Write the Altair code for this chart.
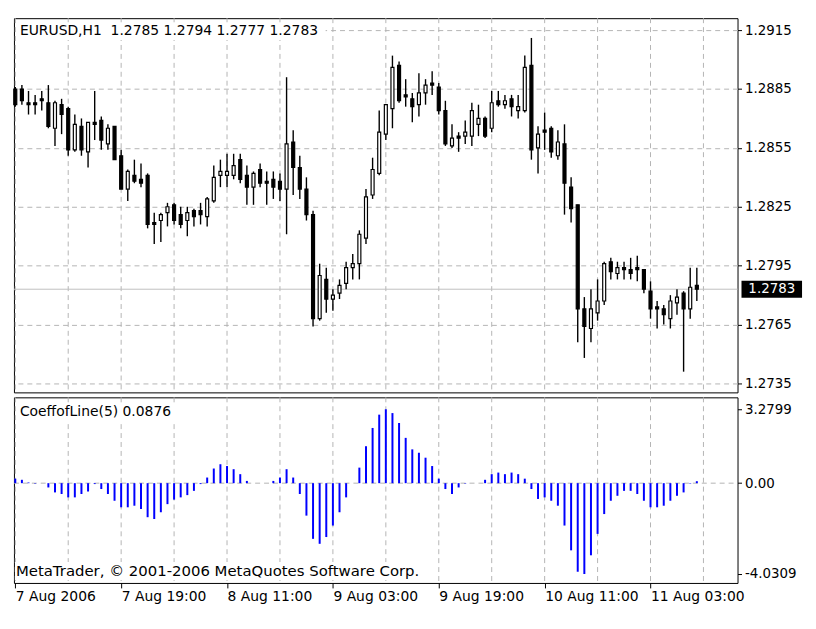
import json
import altair as alt
import pandas as pd

# ---------------- data ----------------
idx = list(range(104))
open_ = [1.2885, 1.2885, 1.2878, 1.2878, 1.2880, 1.2878, 1.2865, 1.2877, 1.2875, 1.2854,
         1.2866, 1.2853, 1.2868, 1.2869, 1.2857, 1.2866, 1.2851, 1.2834, 1.2841, 1.2839,
         1.2841, 1.2817, 1.2818, 1.2822, 1.2826, 1.2821, 1.2818, 1.2823, 1.2823, 1.2820,
         1.2828, 1.2841, 1.2841, 1.2841, 1.2849, 1.2841, 1.2835, 1.2844, 1.2838, 1.2839,
         1.2838, 1.2834, 1.2858, 1.2845, 1.2834, 1.2821, 1.2768, 1.2788, 1.2778, 1.2781,
         1.2786, 1.2794, 1.2796, 1.2809, 1.2831, 1.2842, 1.2862, 1.2875, 1.2897, 1.2882,
         1.2880, 1.2877, 1.2883, 1.2888, 1.2886, 1.2874, 1.2856, 1.2861, 1.2861, 1.2861,
         1.2867, 1.2870, 1.2865, 1.2879, 1.2877, 1.2880, 1.2874, 1.2874, 1.2897, 1.2855,
         1.2864, 1.2865, 1.2851, 1.2857, 1.2835, 1.2826, 1.2773, 1.2763, 1.2771, 1.2777,
         1.2797, 1.2791, 1.2794, 1.2793, 1.2794, 1.2793, 1.2782, 1.2774, 1.2773, 1.2768,
         1.2776, 1.2781, 1.2773, 1.2785]
high = [1.2886, 1.2887, 1.2884, 1.2882, 1.2884, 1.2887, 1.2879, 1.2880, 1.2876, 1.2872,
        1.2870, 1.2868, 1.2884, 1.2871, 1.2867, 1.2866, 1.2854, 1.2844, 1.2849, 1.2847,
        1.2842, 1.2822, 1.2822, 1.2827, 1.2827, 1.2825, 1.2825, 1.2824, 1.2827, 1.2830,
        1.2846, 1.2849, 1.2852, 1.2852, 1.2852, 1.2846, 1.2843, 1.2847, 1.2843, 1.2843,
        1.2842, 1.2891, 1.2864, 1.2851, 1.2840, 1.2823, 1.2796, 1.2794, 1.2783, 1.2788,
        1.2797, 1.2801, 1.2813, 1.2834, 1.2850, 1.2874, 1.2877, 1.2902, 1.2899, 1.2890,
        1.2883, 1.2893, 1.2890, 1.2894, 1.2888, 1.2879, 1.2867, 1.2863, 1.2869, 1.2878,
        1.2877, 1.2871, 1.2884, 1.2884, 1.2882, 1.2882, 1.2882, 1.2902, 1.2911, 1.2866,
        1.2873, 1.2866, 1.2864, 1.2867, 1.2840, 1.2826, 1.2779, 1.2783, 1.2788, 1.2797,
        1.2799, 1.2797, 1.2797, 1.2799, 1.2800, 1.2793, 1.2787, 1.2777, 1.2775, 1.2780,
        1.2783, 1.2782, 1.2794, 1.2794]
low = [1.2876, 1.2877, 1.2872, 1.2872, 1.2874, 1.2865, 1.2856, 1.2862, 1.2851, 1.2853,
       1.2851, 1.2845, 1.2859, 1.2854, 1.2854, 1.2849, 1.2834, 1.2828, 1.2837, 1.2835,
       1.2814, 1.2806, 1.2807, 1.2815, 1.2816, 1.2814, 1.2810, 1.2815, 1.2816, 1.2815,
       1.2827, 1.2835, 1.2835, 1.2839, 1.2837, 1.2826, 1.2826, 1.2835, 1.2826, 1.2829,
       1.2828, 1.2811, 1.2831, 1.2829, 1.2818, 1.2764, 1.2767, 1.2771, 1.2772, 1.2778,
       1.2783, 1.2788, 1.2788, 1.2806, 1.2829, 1.2841, 1.2859, 1.2865, 1.2878, 1.2876,
       1.2868, 1.2871, 1.2877, 1.2882, 1.2872, 1.2856, 1.2855, 1.2853, 1.2857, 1.2856,
       1.2861, 1.2860, 1.2863, 1.2876, 1.2875, 1.2871, 1.2870, 1.2873, 1.2849, 1.2842,
       1.2854, 1.2850, 1.2849, 1.2821, 1.2817, 1.2756, 1.2748, 1.2756, 1.2767, 1.2775,
       1.2788, 1.2788, 1.2788, 1.2788, 1.2787, 1.2781, 1.2768, 1.2763, 1.2765, 1.2763,
       1.2770, 1.2741, 1.2768, 1.2777]
close = [1.2877, 1.2879, 1.2877, 1.2877, 1.2879, 1.2866, 1.2878, 1.2872, 1.2854, 1.2867,
         1.2854, 1.2868, 1.2867, 1.2859, 1.2865, 1.2849, 1.2834, 1.2843, 1.2838, 1.2837,
         1.2816, 1.2816, 1.2821, 1.2825, 1.2818, 1.2816, 1.2822, 1.2820, 1.2821, 1.2829,
         1.2840, 1.2843, 1.2843, 1.2846, 1.2839, 1.2835, 1.2842, 1.2837, 1.2837, 1.2835,
         1.2834, 1.2857, 1.2845, 1.2834, 1.2821, 1.2768, 1.2790, 1.2778, 1.2780, 1.2785,
         1.2794, 1.2796, 1.2811, 1.2830, 1.2844, 1.2863, 1.2877, 1.2896, 1.2879, 1.2881,
         1.2876, 1.2883, 1.2887, 1.2887, 1.2874, 1.2857, 1.2860, 1.2860, 1.2863, 1.2874,
         1.2870, 1.2861, 1.2878, 1.2877, 1.2879, 1.2876, 1.2876, 1.2896, 1.2854, 1.2862,
         1.2863, 1.2853, 1.2858, 1.2837, 1.2824, 1.2773, 1.2764, 1.2773, 1.2777, 1.2796,
         1.2792, 1.2794, 1.2793, 1.2791, 1.2793, 1.2783, 1.2773, 1.2773, 1.2770, 1.2777,
         1.2779, 1.2773, 1.2784, 1.2783]
coeff = [0.2, 0.15, 0.03, -0.02, 0.0, -0.19, -0.41, -0.48, -0.63, -0.63,
         -0.48, -0.37, -0.04, -0.26, -0.48, -0.78, -1.07, -1.07, -1.0, -1.15,
         -1.51, -1.59, -1.29, -0.93, -0.73, -0.63, -0.53, -0.34, -0.04, 0.25,
         0.65, 0.84, 0.76, 0.62, 0.40, 0.1, 0.0, 0.0, 0.0, 0.1,
         0.25, 0.62, 0.25, -0.48, -1.44, -2.47, -2.69, -2.39, -1.88, -1.29,
         -0.63, 0.0, 0.69, 1.64, 2.45, 3.04, 3.2799, 3.11, 2.67, 2.01,
         1.50, 1.35, 1.13, 0.76, 0.2, -0.26, -0.48, -0.19, -0.02, 0.0,
         0.0, 0.15, 0.4, 0.47, 0.4, 0.47, 0.4, 0.2, -0.26, -0.70,
         -0.63, -0.78, -1.0, -1.88, -2.98, -3.93, -4.0309, -3.2, -2.25, -1.37,
         -0.78, -0.56, -0.34, -0.34, -0.48, -0.78, -1.07, -1.07, -1.0, -0.78,
         -0.56, -0.41, -0.02, 0.0876]
price_ticks = [1.2915, 1.2885, 1.2855, 1.2825, 1.2795, 1.2765, 1.2735]
coeff_ticks = [3.2799, 0.0, -4.0309]
time_labels = ["7 Aug 2006", "7 Aug 19:00", "8 Aug 11:00", "9 Aug 03:00",
               "9 Aug 19:00", "10 Aug 11:00", "11 Aug 03:00"]
time_tick_idx = [0, 16, 32, 48, 64, 80, 96]
grid_idx = [0, 8, 16, 24, 32, 40, 48, 56, 64, 72, 80, 88, 96, 104]
last_price = 1.2783
header = "EURUSD,H1\u00a0 1.2785 1.2794 1.2777 1.2783"
sub_title = "CoeffofLine(5) 0.0876"
copyright_txt = "MetaTrader, © 2001-2006 MetaQuotes Software Corp."

# ---------------- frames ----------------
df = pd.DataFrame({"i": idx, "o": open_, "h": high, "l": low, "c": close})
df["dir"] = ["up" if c >= o else "down" for o, c in zip(open_, close)]
cdf = pd.DataFrame({"i": idx, "v": coeff})
gdf = pd.DataFrame({"g": grid_idx})
one = pd.DataFrame({"k": [0]})

FONT = "DejaVu Sans"
W = 729
H1 = 377
H2 = 187
GRID = "#b4b4b4"

xs = alt.Scale(domain=[-0.2, 109.15], nice=False, zero=False, padding=0)
ys = alt.Scale(domain=[1.273045, 1.292107], nice=False, zero=False, padding=0)
ys2 = alt.Scale(domain=[-4.427, 3.808], nice=False, zero=False, padding=0)

y_main_axis = alt.Axis(orient="right", values=price_ticks, format=".4f", title=None,
                       grid=True, gridColor=GRID, gridDash=[5, 4], domain=False,
                       tickColor="black", tickSize=4, labelFont=FONT, labelFontSize=13.5,
                       labelColor="black", labelPadding=3, labelOverlap=False)
y_low_axis = alt.Axis(orient="right", values=coeff_ticks, title=None, grid=False,
                      labelExpr="datum.value == 0 ? '0.00' : toString(datum.value)",
                      domain=False, tickColor="black", tickSize=4, labelFont=FONT,
                      labelFontSize=13.5, labelColor="black", labelPadding=3,
                      labelOverlap=False)
x_low_axis = alt.Axis(orient="bottom", values=time_tick_idx, title=None, grid=False,
                      labelExpr=json.dumps(time_labels) + "[round(datum.value / 16)]",
                      domain=False, tickColor="black", tickSize=5, labelFont=FONT,
                      labelFontSize=14, labelColor="black", labelAlign="left",
                      labelPadding=2, labelFlush=False, labelOverlap=False)

# ---------------- main panel ----------------
vgrid_main = alt.Chart(gdf).mark_rule(color=GRID, strokeDash=[5, 4], strokeWidth=1).encode(
    x=alt.X("g:Q", scale=xs, axis=None),
    y=alt.value(0), y2=alt.value(H1),
)
price_line = alt.Chart(one).mark_rule(color="#c0c0c0", strokeWidth=1).encode(
    y=alt.Y(datum=last_price, scale=ys, axis=y_main_axis),
    x=alt.value(0), x2=alt.value(W),
)
head_bg = alt.Chart(one).mark_rect(color="white").encode(
    x=alt.value(3), x2=alt.value(314), y=alt.value(4), y2=alt.value(22))
head_txt = alt.Chart(one).mark_text(align="left", baseline="middle", font=FONT,
                                    fontSize=14, color="black").encode(
    x=alt.value(6), y=alt.value(13), text=alt.value(header))
wicks = alt.Chart(df).mark_rule(color="black", strokeWidth=1.4).encode(
    x=alt.X("i:Q", scale=xs, axis=None),
    y=alt.Y("l:Q", scale=ys, axis=y_main_axis),
    y2="h:Q",
)
bodies = alt.Chart(df).mark_bar(size=3, stroke="black", strokeWidth=1.2).encode(
    x=alt.X("i:Q", scale=xs, axis=None),
    y=alt.Y("o:Q", scale=ys, axis=y_main_axis),
    y2="c:Q",
    fill=alt.Fill("dir:N", scale=alt.Scale(domain=["up", "down"], range=["white", "black"]),
                  legend=None),
)
box = alt.Chart(one).mark_rect(color="black").encode(
    x=alt.value(733), x2=alt.value(794),
    y=alt.Y(datum=last_price + 0.00043, scale=ys, axis=y_main_axis),
    y2=alt.Y2(datum=last_price - 0.00043),
)
box_txt = alt.Chart(one).mark_text(align="center", baseline="middle", font=FONT,
                                   fontSize=13.5, color="white").encode(
    x=alt.value(763.5),
    y=alt.Y(datum=last_price, scale=ys, axis=y_main_axis),
    text=alt.value(f"{last_price:.4f}"),
)
main = alt.layer(vgrid_main, price_line, head_bg, head_txt, wicks, bodies, box, box_txt).properties(
    width=W, height=H1)

# ---------------- indicator panel ----------------
vgrid_low = alt.Chart(gdf).mark_rule(color=GRID, strokeDash=[5, 4], strokeWidth=1).encode(
    x=alt.X("g:Q", scale=xs, axis=x_low_axis),
    y=alt.value(0), y2=alt.value(H2),
)
zero_line = alt.Chart(one).mark_rule(color=GRID, strokeDash=[5, 4], strokeWidth=1).encode(
    y=alt.Y(datum=0, scale=ys2, axis=y_low_axis),
    x=alt.value(0), x2=alt.value(W),
)
hist = alt.Chart(cdf).mark_rule(color="#0000ff", strokeWidth=2).encode(
    x=alt.X("i:Q", scale=xs, axis=x_low_axis),
    y=alt.Y("v:Q", scale=ys2, axis=y_low_axis),
    y2=alt.datum(0),
)
sub_bg = alt.Chart(one).mark_rect(color="white").encode(
    x=alt.value(3), x2=alt.value(172), y=alt.value(6), y2=alt.value(24))
sub_txt = alt.Chart(one).mark_text(align="left", baseline="middle", font=FONT,
                                   fontSize=14, color="black").encode(
    x=alt.value(6), y=alt.value(15), text=alt.value(sub_title))
copy_bg = alt.Chart(one).mark_rect(color="white").encode(
    x=alt.value(1), x2=alt.value(410), y=alt.value(166), y2=alt.value(184))
copy_txt = alt.Chart(one).mark_text(align="left", baseline="middle", font=FONT,
                                    fontSize=15, color="black").encode(
    x=alt.value(2), y=alt.value(175), text=alt.value(copyright_txt))
lower = alt.layer(vgrid_low, zero_line, hist, sub_bg, sub_txt, copy_bg, copy_txt).properties(
    width=W, height=H2)

chart = alt.vconcat(main, lower, spacing=3).properties(
    padding={"left": 4, "top": 7, "right": 5, "bottom": 5},
    background="white",
).configure_view(stroke="black", strokeWidth=1)

chart.save("out.html", embed_options={"renderer": "svg", "actions": False})
